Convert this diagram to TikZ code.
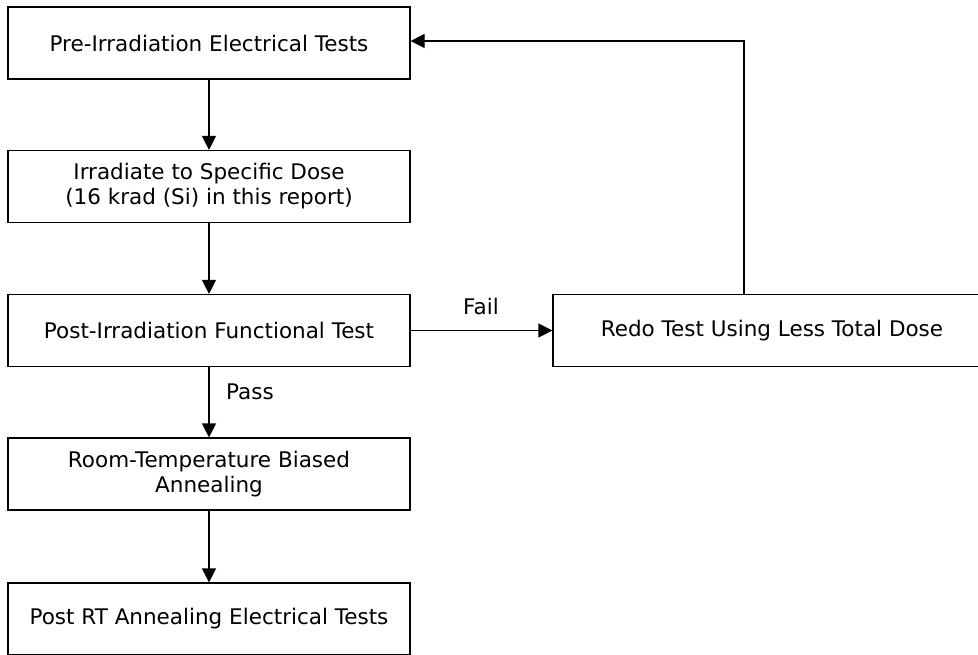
\documentclass[tikz,border=0pt]{standalone}
\usepackage{fontspec}
\setmainfont{DejaVu Sans}
\usetikzlibrary{arrows.meta}
\begin{document}
\begin{tikzpicture}[x=1pt,y=-1pt,
  box/.style={draw, line width=1.2pt, minimum width=402pt, minimum height=72pt,
    inner sep=0pt, align=center, font=\fontsize{21.5}{25}\selectfont},
  flow/.style={line width=1.2pt, -{Triangle[length=14pt,width=14pt]}},
  lbl/.style={inner sep=0pt, font=\fontsize{21.5}{25}\selectfont}]
\useasboundingbox (0,0) rectangle (978,654);
\clip (0,0) rectangle (978,654);
% main column
\node[box] (pre)  at (209,43)    {Pre-Irradiation Electrical Tests};
\node[box] (irr)  at (209,186.5) {Irradiate to Specific Dose\\(16 krad (Si) in this report)};
\node[box] (post) at (209,330.5) {Post-Irradiation Functional Test};
\node[box] (room) at (209,474)   {Room-Temperature Biased\\Annealing};
\node[box] (rt)   at (209,619)   {Post RT Annealing Electrical Tests};
% failure branch
\node[box, minimum width=438pt] (redo) at (772,330.5) {Redo Test Using Less Total Dose};
\coordinate (bend) at (744,41);
% connectors
\draw[flow] (pre) -- (irr);
\draw[flow] (irr) -- (post);
\draw[flow] (post) -- (room);
\draw[flow] (room) -- (rt);
\draw[flow] (post) -- (redo);
\draw[flow] (redo.north -| bend) -- (bend) -- (pre.east |- bend);
% branch labels
\node[lbl] (fail) at (481,306) {Fail};
\node[lbl] (pass) at (250,392) {Pass};
\end{tikzpicture}
\end{document}
